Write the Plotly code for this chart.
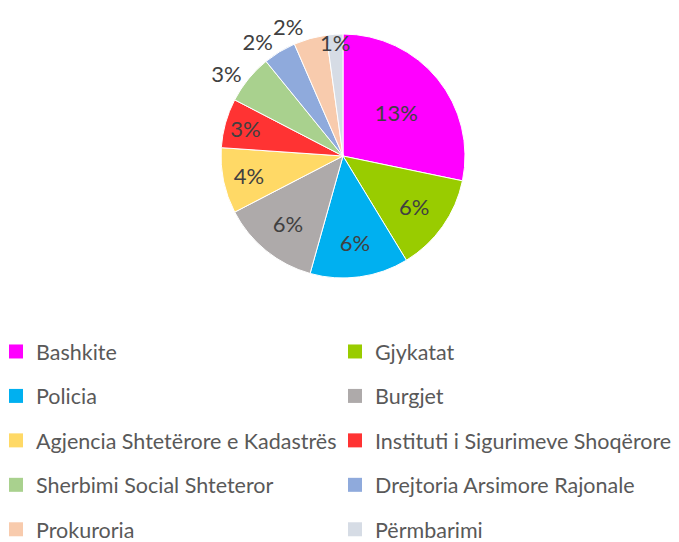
import plotly.graph_objects as go

# Institutions and their share (percent), in drawing order
categories = [
    "Bashkite", "Gjykatat", "Policia", "Burgjet",
    "Agjencia Shtetërore e Kadastrës", "Instituti i Sigurimeve Shoqërore",
    "Sherbimi Social Shteteror", "Drejtoria Arsimore Rajonale",
    "Prokuroria", "Përmbarimi",
]
shares = [13, 6, 6, 6, 4, 3, 3, 2, 2, 1]
colors = [
    "#FF00FF", "#99CC00", "#00B0F0", "#AEAAAA", "#FFD966",
    "#FF3333", "#A9D18E", "#8FAADC", "#F8CBAD", "#D6DCE5",
]
# Where each percentage label goes; the outside labels are split over two
# layers so that neighbouring labels never collide and get nudged aside.
label_layer = ["in", "in", "in", "in", "in", "in", "out2", "out1", "out2", "in"]

W, H = 679, 542
FONT = "Lato, 'Open Sans', sans-serif"
LABEL_COLOR = "#404040"
pct = [f"{v}%" for v in shares]
pie_domain = dict(x=[(343 - 122) / W, (343 + 122) / W],
                  y=[1 - 278 / H, 1 - 34 / H])

fig = go.Figure()

# Main pie: coloured slices, inside labels and one outside label
fig.add_trace(go.Pie(
    labels=categories,
    values=shares,
    text=[t if lay in ("in", "out1") else "" for t, lay in zip(pct, label_layer)],
    textinfo="text",
    textposition=["inside" if lay == "in" else ("outside" if lay == "out1" else "none")
                  for lay in label_layer],
    insidetextorientation="horizontal",
    sort=False,
    direction="clockwise",
    rotation=0,
    marker=dict(colors=colors, line=dict(color="white", width=1)),
    textfont=dict(family=FONT, size=22, color=LABEL_COLOR),
    outsidetextfont=dict(family=FONT, size=22, color=LABEL_COLOR),
    showlegend=False,
    hoverinfo="label+text",
    domain=pie_domain,
))

# Transparent overlay carrying the remaining outside labels
fig.add_trace(go.Pie(
    labels=categories,
    values=shares,
    text=[t if lay == "out2" else "" for t, lay in zip(pct, label_layer)],
    textinfo="text",
    textposition=["outside" if lay == "out2" else "none" for lay in label_layer],
    sort=False,
    direction="clockwise",
    rotation=0,
    marker=dict(colors=["rgba(0,0,0,0)"] * len(shares), line=dict(width=0)),
    outsidetextfont=dict(family=FONT, size=22, color=LABEL_COLOR),
    showlegend=False,
    hoverinfo="skip",
    domain=pie_domain,
))

# Legend entries in two columns: even indices left, odd indices right.
# The placeholder points sit outside the fixed axis range, so only the
# legend swatches are visible.
for i, (name, col) in enumerate(zip(categories, colors)):
    fig.add_trace(go.Scatter(
        x=[0], y=[0], mode="markers", name=name,
        marker=dict(symbol="square", size=14, color=col, line=dict(width=0)),
        legend="legend" if i % 2 == 0 else "legend2",
        legendgroup=f"g{i}",
        hoverinfo="skip",
    ))

legend_common = dict(
    orientation="v",
    traceorder="grouped",
    tracegroupgap=13.5,
    xanchor="left", yanchor="top",
    font=dict(family=FONT, size=21.5, color="#595959"),
    bgcolor="rgba(0,0,0,0)",
    borderwidth=0,
)

fig.update_layout(
    width=W, height=H,
    margin=dict(l=0, r=0, t=0, b=0, autoexpand=False),
    paper_bgcolor="white",
    plot_bgcolor="white",
    xaxis=dict(visible=False, range=[1, 2], fixedrange=True),
    yaxis=dict(visible=False, range=[1, 2], fixedrange=True),
    uniformtext=dict(minsize=22, mode="show"),
    legend=dict(x=-4 / W, y=1 - 331 / H, **legend_common),
    legend2=dict(x=335 / W, y=1 - 331 / H, **legend_common),
)

fig.write_html("out.html")
